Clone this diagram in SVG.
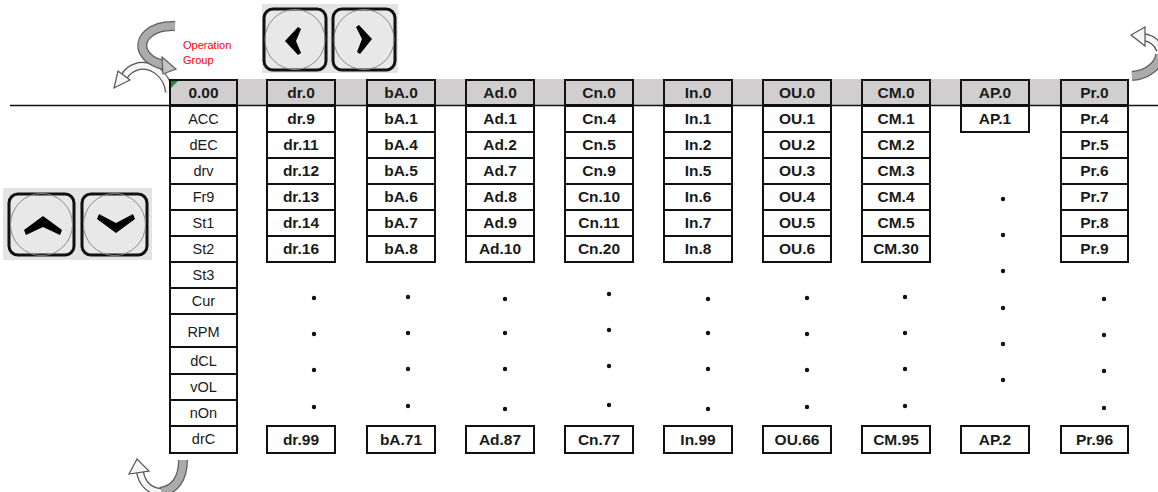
<svg xmlns="http://www.w3.org/2000/svg" width="1158" height="492" viewBox="0 0 1158 492">
<style>
.c{fill:#fff;stroke:#111;stroke-width:2}
.h{fill:#d0cece;stroke:#111;stroke-width:2}
.t{font-family:"Liberation Sans",Arial,sans-serif;font-size:15.5px;font-weight:bold;fill:#1a1a1a;text-anchor:middle}
.n{font-family:"Liberation Sans",Arial,sans-serif;font-size:14.5px;fill:#1a1a1a;text-anchor:middle}
.d{fill:#111}
.btn{fill:#e8e8e8;stroke:#111;stroke-width:3}
.ring{fill:none;stroke:#8a8a8a;stroke-width:1}
.ro{fill:none;stroke:#5e5e5e;stroke-width:10}
.ri{fill:none;stroke:#ababab;stroke-width:7.5}
.wo{fill:none;stroke:#555;stroke-width:8}
.wi{fill:none;stroke:#f6f6f6;stroke-width:5.5}
.hd{fill:#f6f6f6;stroke:#555;stroke-width:1.2}
.hg{fill:#c4c4c4;stroke:#5e5e5e;stroke-width:1.2}
</style>

<!-- background band and main line -->
<rect x="170" y="79" width="958" height="26" fill="#d0cece"/>
<line x1="10" y1="105.5" x2="1158" y2="105.5" stroke="#111" stroke-width="1.5"/>

<!-- connectors / curved arrows -->
<g id="connectors">
  <!-- top-left light arrow (behind) -->
  <path class="wo" d="M169,92 C167,74 152,64 139,66 C131,68 126,73 124,77"/>
  <path class="wi" d="M169,92 C167,74 152,64 139,66 C131,68 126,73 124,77"/>
  <polygon class="hd" points="130,80 114,88 118,71"/>
  <!-- top-left dark curved arrow -->
  <path class="ro" d="M175,26 C152,25 139,38 143,50 C146,58 155,63 164,65"/>
  <path class="ri" d="M175,26 C152,25 139,38 143,50 C146,58 155,63 164,65"/>
  <polygon class="hg" points="162,57 176,69 163,74"/>
  <!-- top-right arrow -->
  <path class="ro" d="M1132,76 C1148,75 1160,64 1160,54"/>
  <path class="ri" d="M1132,76 C1148,75 1160,64 1160,54"/>
  <path class="wo" d="M1160,50 C1157,42 1151,38 1143,37"/>
  <path class="wi" d="M1160,50 C1157,42 1151,38 1143,37"/>
  <polygon class="hd" points="1145,27 1131,35 1145,46"/>
  <!-- bottom-left arrow -->
  <path class="ro" d="M183,460 C183,478 175,490 160,492"/>
  <path class="ri" d="M183,460 C183,478 175,490 160,492"/>
  <path class="wo" d="M161,492 C149,491 142,483 140,472"/>
  <path class="wi" d="M161,492 C149,491 142,483 140,472"/>
  <polygon class="hd" points="129,474 137,459 149,471"/>
</g>

<!-- operation group label -->
<g id="label-operation-group" font-family="Liberation Sans,Arial,sans-serif" font-size="11" fill="#ff0000">
  <text x="183" y="49">Operation</text>
  <text x="183" y="64">Group</text>
</g>

<!-- left/right buttons -->
<g id="buttons-lr">
  <rect x="262" y="4" width="136" height="69" fill="#e4e4e4"/>
  <rect class="btn" x="264" y="9" width="62" height="61" rx="9"/>
  <circle class="ring" cx="295" cy="39.5" r="30"/>
  <polygon points="285,41 298,27 301,29 296,41 301,53 298,55" fill="#000"/>
  <rect class="btn" x="333" y="9" width="62" height="61" rx="9"/>
  <circle class="ring" cx="364" cy="39.5" r="30"/>
  <polygon points="372,39 359,25 356,27 362,39 357,52 360,54" fill="#000"/>
</g>

<!-- up/down buttons -->
<g id="buttons-ud">
  <rect x="3" y="188" width="149" height="72" fill="#e4e4e4"/>
  <rect class="btn" x="9" y="194" width="65" height="61" rx="9"/>
  <circle class="ring" cx="41.5" cy="224.5" r="31"/>
  <polygon points="43,216 62,230 60,235 43,227 26,235 24,230" fill="#000"/>
  <rect class="btn" x="82" y="194" width="65" height="61" rx="9"/>
  <circle class="ring" cx="114.5" cy="224.5" r="31"/>
  <polygon points="116,233 135,219 133,214 116,223 99,214 97,219" fill="#000"/>
</g>

<!-- operation column -->
<g id="col-op">
  <rect class="h" x="170" y="80" width="67" height="25"/>
  <polygon points="171,81 178,81 171,88" fill="#1f8a3a"/>
  <text class="t" x="203.5" y="98">0.00</text>
  <rect class="c" x="170" y="106" width="67" height="26"/><text class="n" x="203.5" y="124">ACC</text>
  <rect class="c" x="170" y="132" width="67" height="26"/><text class="n" x="203.5" y="150">dEC</text>
  <rect class="c" x="170" y="158" width="67" height="26"/><text class="n" x="203.5" y="176">drv</text>
  <rect class="c" x="170" y="184" width="67" height="26"/><text class="n" x="203.5" y="202">Fr9</text>
  <rect class="c" x="170" y="210" width="67" height="26"/><text class="n" x="203.5" y="228">St1</text>
  <rect class="c" x="170" y="236" width="67" height="26"/><text class="n" x="203.5" y="254">St2</text>
  <rect class="c" x="170" y="262" width="67" height="26"/><text class="n" x="203.5" y="280">St3</text>
  <rect class="c" x="170" y="288" width="67" height="26"/><text class="n" x="203.5" y="306">Cur</text>
  <rect class="c" x="170" y="314" width="67" height="33"/><text class="n" x="203.5" y="337">RPM</text>
  <rect class="c" x="170" y="347" width="67" height="27"/><text class="n" x="203.5" y="366">dCL</text>
  <rect class="c" x="170" y="374" width="67" height="26"/><text class="n" x="203.5" y="392">vOL</text>
  <rect class="c" x="170" y="400" width="67" height="26"/><text class="n" x="203.5" y="418">nOn</text>
  <rect class="c" x="170" y="426" width="67" height="27"/><text class="n" x="203.5" y="444">drC</text>
</g>

<!-- dr column -->
<g id="col-dr">
  <rect class="h" x="267" y="80" width="68" height="25"/><text class="t" x="301" y="98">dr.0</text>
  <rect class="c" x="267" y="106" width="68" height="26"/><text class="t" x="301" y="124">dr.9</text>
  <rect class="c" x="267" y="132" width="68" height="26"/><text class="t" x="301" y="150">dr.11</text>
  <rect class="c" x="267" y="158" width="68" height="26"/><text class="t" x="301" y="176">dr.12</text>
  <rect class="c" x="267" y="184" width="68" height="26"/><text class="t" x="301" y="202">dr.13</text>
  <rect class="c" x="267" y="210" width="68" height="26"/><text class="t" x="301" y="228">dr.14</text>
  <rect class="c" x="267" y="236" width="68" height="26"/><text class="t" x="301" y="254">dr.16</text>
  <circle class="d" cx="314" cy="298" r="2.2"/><circle class="d" cx="314" cy="334" r="2.2"/><circle class="d" cx="314" cy="370" r="2.2"/><circle class="d" cx="314" cy="407" r="2.2"/>
  <rect class="c" x="267" y="426" width="68" height="27"/><text class="t" x="301" y="445">dr.99</text>
</g>

<!-- bA column -->
<g id="col-bA">
  <rect class="h" x="367" y="80" width="68" height="25"/><text class="t" x="401" y="98">bA.0</text>
  <rect class="c" x="367" y="106" width="68" height="26"/><text class="t" x="401" y="124">bA.1</text>
  <rect class="c" x="367" y="132" width="68" height="26"/><text class="t" x="401" y="150">bA.4</text>
  <rect class="c" x="367" y="158" width="68" height="26"/><text class="t" x="401" y="176">bA.5</text>
  <rect class="c" x="367" y="184" width="68" height="26"/><text class="t" x="401" y="202">bA.6</text>
  <rect class="c" x="367" y="210" width="68" height="26"/><text class="t" x="401" y="228">bA.7</text>
  <rect class="c" x="367" y="236" width="68" height="26"/><text class="t" x="401" y="254">bA.8</text>
  <circle class="d" cx="408" cy="297" r="2.2"/><circle class="d" cx="408" cy="333" r="2.2"/><circle class="d" cx="408" cy="369" r="2.2"/><circle class="d" cx="408" cy="406" r="2.2"/>
  <rect class="c" x="367" y="426" width="68" height="27"/><text class="t" x="401" y="445">bA.71</text>
</g>

<!-- Ad column -->
<g id="col-Ad">
  <rect class="h" x="466" y="80" width="68" height="25"/><text class="t" x="500" y="98">Ad.0</text>
  <rect class="c" x="466" y="106" width="68" height="26"/><text class="t" x="500" y="124">Ad.1</text>
  <rect class="c" x="466" y="132" width="68" height="26"/><text class="t" x="500" y="150">Ad.2</text>
  <rect class="c" x="466" y="158" width="68" height="26"/><text class="t" x="500" y="176">Ad.7</text>
  <rect class="c" x="466" y="184" width="68" height="26"/><text class="t" x="500" y="202">Ad.8</text>
  <rect class="c" x="466" y="210" width="68" height="26"/><text class="t" x="500" y="228">Ad.9</text>
  <rect class="c" x="466" y="236" width="68" height="26"/><text class="t" x="500" y="254">Ad.10</text>
  <circle class="d" cx="505" cy="299" r="2.2"/><circle class="d" cx="505" cy="333" r="2.2"/><circle class="d" cx="505" cy="369" r="2.2"/><circle class="d" cx="505" cy="409" r="2.2"/>
  <rect class="c" x="466" y="426" width="68" height="27"/><text class="t" x="500" y="445">Ad.87</text>
</g>

<!-- Cn column -->
<g id="col-Cn">
  <rect class="h" x="565" y="80" width="68" height="25"/><text class="t" x="599" y="98">Cn.0</text>
  <rect class="c" x="565" y="106" width="68" height="26"/><text class="t" x="599" y="124">Cn.4</text>
  <rect class="c" x="565" y="132" width="68" height="26"/><text class="t" x="599" y="150">Cn.5</text>
  <rect class="c" x="565" y="158" width="68" height="26"/><text class="t" x="599" y="176">Cn.9</text>
  <rect class="c" x="565" y="184" width="68" height="26"/><text class="t" x="599" y="202">Cn.10</text>
  <rect class="c" x="565" y="210" width="68" height="26"/><text class="t" x="599" y="228">Cn.11</text>
  <rect class="c" x="565" y="236" width="68" height="26"/><text class="t" x="599" y="254">Cn.20</text>
  <circle class="d" cx="609" cy="294" r="2.2"/><circle class="d" cx="609" cy="330" r="2.2"/><circle class="d" cx="609" cy="366" r="2.2"/><circle class="d" cx="609" cy="405" r="2.2"/>
  <rect class="c" x="565" y="426" width="68" height="27"/><text class="t" x="599" y="445">Cn.77</text>
</g>

<!-- In column -->
<g id="col-In">
  <rect class="h" x="664" y="80" width="68" height="25"/><text class="t" x="698" y="98">In.0</text>
  <rect class="c" x="664" y="106" width="68" height="26"/><text class="t" x="698" y="124">In.1</text>
  <rect class="c" x="664" y="132" width="68" height="26"/><text class="t" x="698" y="150">In.2</text>
  <rect class="c" x="664" y="158" width="68" height="26"/><text class="t" x="698" y="176">In.5</text>
  <rect class="c" x="664" y="184" width="68" height="26"/><text class="t" x="698" y="202">In.6</text>
  <rect class="c" x="664" y="210" width="68" height="26"/><text class="t" x="698" y="228">In.7</text>
  <rect class="c" x="664" y="236" width="68" height="26"/><text class="t" x="698" y="254">In.8</text>
  <circle class="d" cx="708" cy="299" r="2.2"/><circle class="d" cx="708" cy="333" r="2.2"/><circle class="d" cx="708" cy="369" r="2.2"/><circle class="d" cx="708" cy="409" r="2.2"/>
  <rect class="c" x="664" y="426" width="68" height="27"/><text class="t" x="698" y="445">In.99</text>
</g>

<!-- OU column -->
<g id="col-OU">
  <rect class="h" x="763" y="80" width="68" height="25"/><text class="t" x="797" y="98">OU.0</text>
  <rect class="c" x="763" y="106" width="68" height="26"/><text class="t" x="797" y="124">OU.1</text>
  <rect class="c" x="763" y="132" width="68" height="26"/><text class="t" x="797" y="150">OU.2</text>
  <rect class="c" x="763" y="158" width="68" height="26"/><text class="t" x="797" y="176">OU.3</text>
  <rect class="c" x="763" y="184" width="68" height="26"/><text class="t" x="797" y="202">OU.4</text>
  <rect class="c" x="763" y="210" width="68" height="26"/><text class="t" x="797" y="228">OU.5</text>
  <rect class="c" x="763" y="236" width="68" height="26"/><text class="t" x="797" y="254">OU.6</text>
  <circle class="d" cx="807" cy="298" r="2.2"/><circle class="d" cx="807" cy="334" r="2.2"/><circle class="d" cx="807" cy="370" r="2.2"/><circle class="d" cx="807" cy="407" r="2.2"/>
  <rect class="c" x="763" y="426" width="68" height="27"/><text class="t" x="797" y="445">OU.66</text>
</g>

<!-- CM column -->
<g id="col-CM">
  <rect class="h" x="862" y="80" width="68" height="25"/><text class="t" x="896" y="98">CM.0</text>
  <rect class="c" x="862" y="106" width="68" height="26"/><text class="t" x="896" y="124">CM.1</text>
  <rect class="c" x="862" y="132" width="68" height="26"/><text class="t" x="896" y="150">CM.2</text>
  <rect class="c" x="862" y="158" width="68" height="26"/><text class="t" x="896" y="176">CM.3</text>
  <rect class="c" x="862" y="184" width="68" height="26"/><text class="t" x="896" y="202">CM.4</text>
  <rect class="c" x="862" y="210" width="68" height="26"/><text class="t" x="896" y="228">CM.5</text>
  <rect class="c" x="862" y="236" width="68" height="26"/><text class="t" x="896" y="254">CM.30</text>
  <circle class="d" cx="905" cy="297" r="2.2"/><circle class="d" cx="905" cy="333" r="2.2"/><circle class="d" cx="905" cy="369" r="2.2"/><circle class="d" cx="905" cy="406" r="2.2"/>
  <rect class="c" x="862" y="426" width="68" height="27"/><text class="t" x="896" y="445">CM.95</text>
</g>

<!-- AP column -->
<g id="col-AP">
  <rect class="h" x="961" y="80" width="68" height="25"/><text class="t" x="995" y="98">AP.0</text>
  <rect class="c" x="961" y="106" width="68" height="26"/><text class="t" x="995" y="124">AP.1</text>
  <circle class="d" cx="1003" cy="199" r="2.2"/><circle class="d" cx="1003" cy="235" r="2.2"/><circle class="d" cx="1003" cy="271" r="2.2"/><circle class="d" cx="1003" cy="308" r="2.2"/><circle class="d" cx="1003" cy="344" r="2.2"/><circle class="d" cx="1003" cy="380" r="2.2"/>
  <rect class="c" x="961" y="426" width="68" height="27"/><text class="t" x="995" y="445">AP.2</text>
</g>

<!-- Pr column -->
<g id="col-Pr">
  <rect class="h" x="1061" y="80" width="67" height="25"/><text class="t" x="1094.5" y="98">Pr.0</text>
  <rect class="c" x="1061" y="106" width="67" height="26"/><text class="t" x="1094.5" y="124">Pr.4</text>
  <rect class="c" x="1061" y="132" width="67" height="26"/><text class="t" x="1094.5" y="150">Pr.5</text>
  <rect class="c" x="1061" y="158" width="67" height="26"/><text class="t" x="1094.5" y="176">Pr.6</text>
  <rect class="c" x="1061" y="184" width="67" height="26"/><text class="t" x="1094.5" y="202">Pr.7</text>
  <rect class="c" x="1061" y="210" width="67" height="26"/><text class="t" x="1094.5" y="228">Pr.8</text>
  <rect class="c" x="1061" y="236" width="67" height="26"/><text class="t" x="1094.5" y="254">Pr.9</text>
  <circle class="d" cx="1104" cy="299" r="2.2"/><circle class="d" cx="1104" cy="335" r="2.2"/><circle class="d" cx="1104" cy="371" r="2.2"/><circle class="d" cx="1104" cy="408" r="2.2"/>
  <rect class="c" x="1061" y="426" width="67" height="27"/><text class="t" x="1094.5" y="445">Pr.96</text>
</g>
</svg>
